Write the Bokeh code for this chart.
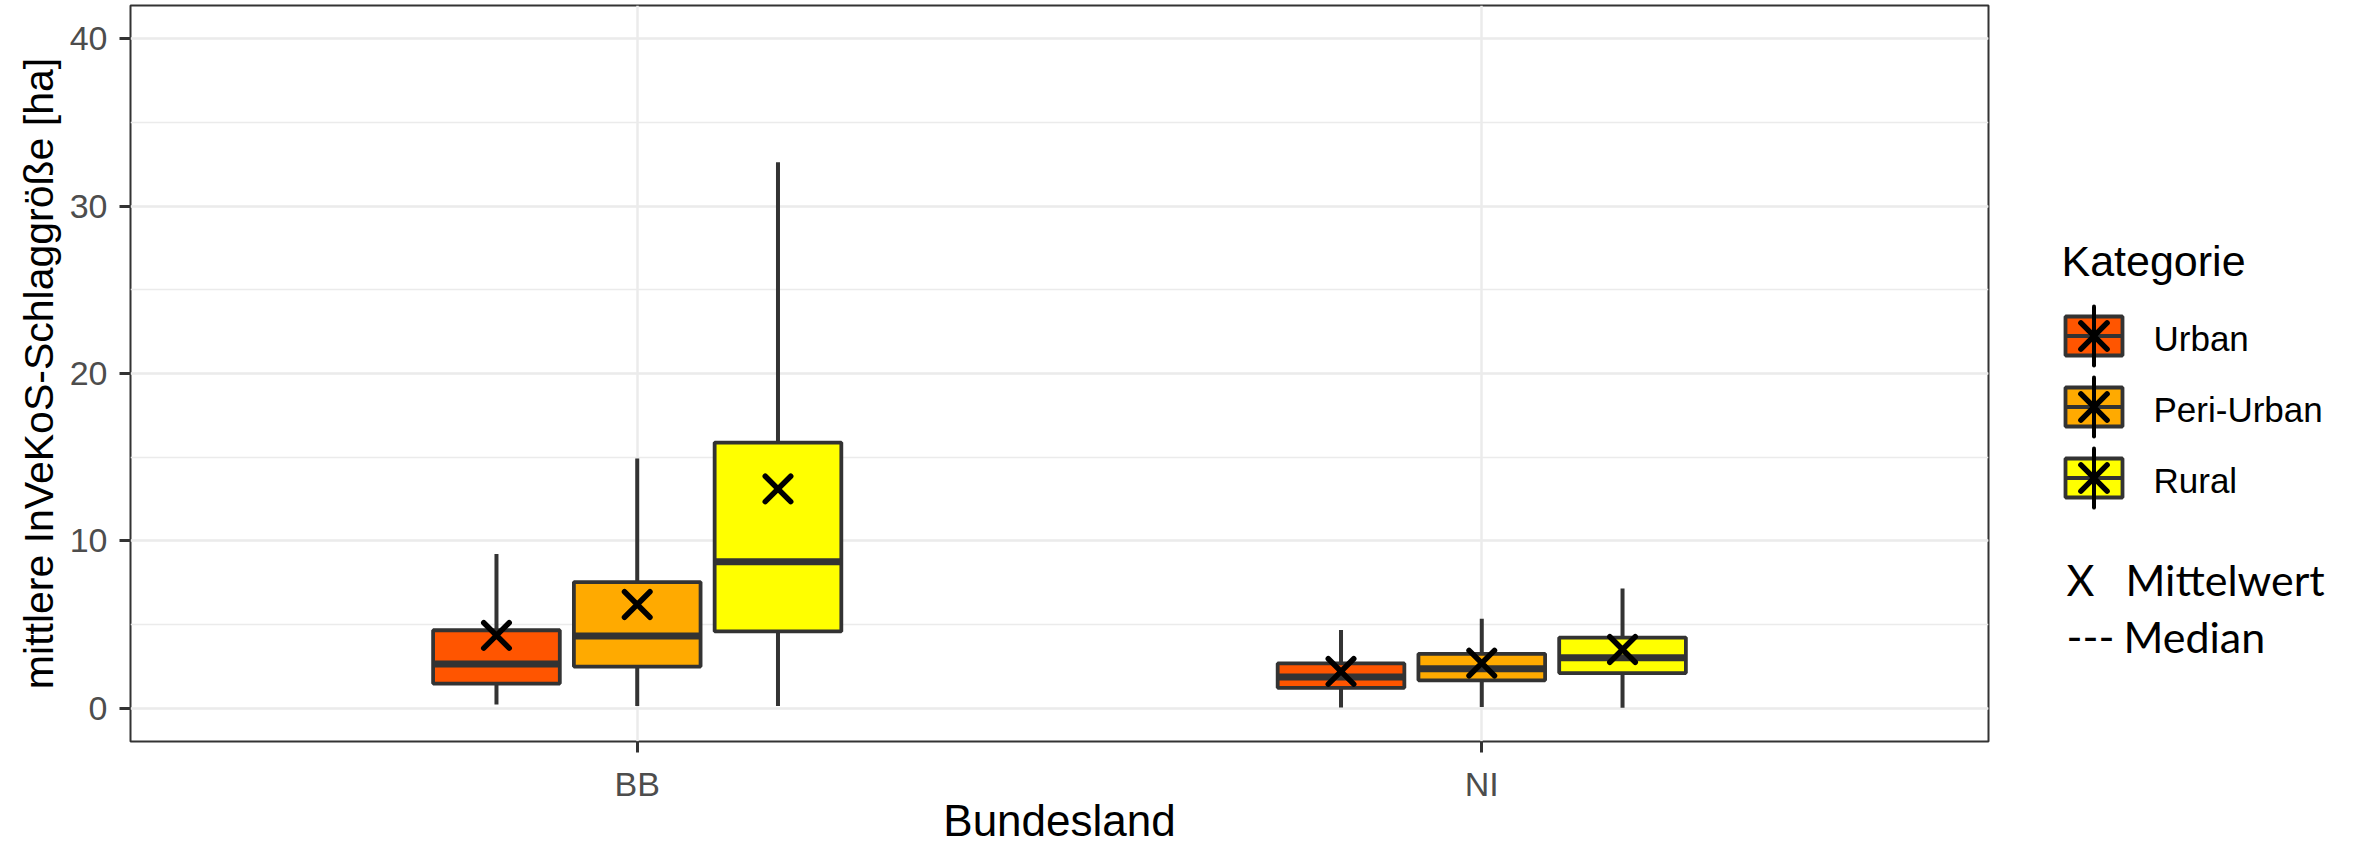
from bokeh.plotting import figure
from bokeh.models import Range1d, FixedTicker, SingleIntervalTicker, ColumnDataSource
from bokeh.layouts import row
from bokeh.embed import file_html
from bokeh.resources import INLINE
from bokeh.core.properties import value

# ---------------- data ----------------
bundeslaender = ["BB", "NI"]
kategorien = ["Urban", "Peri-Urban", "Rural"]
farben = ["#FF5500", "#FFAA00", "#FFFF00"]

# order: BB-Urban, BB-Peri-Urban, BB-Rural, NI-Urban, NI-Peri-Urban, NI-Rural
whisker_min = [0.21, 0.12, 0.12, 0.03, 0.06, 0.02]
q1 = [1.46, 2.48, 4.58, 1.21, 1.66, 2.09]
median = [2.64, 4.30, 8.74, 1.86, 2.35, 3.00]
q3 = [4.65, 7.53, 15.87, 2.67, 3.24, 4.21]
whisker_max = [9.21, 14.92, 32.63, 4.66, 5.34, 7.15]
mittelwert = [4.34, 6.19, 13.10, 2.19, 2.69, 3.50]

x_title = "Bundesland"
y_title = "mittlere InVeKoS-Schlaggröße [ha]"
legend_title = "Kategorie"
note_mean = ("X", "Mittelwert")
note_median = ("---", "Median")

# ---------------- layout constants ----------------
W_MAIN, W_LEG, H = 2008, 351, 847
B_L, B_R, B_T, B_B = 130, 20, 5, 106
Y_LO, Y_HI = -2.0, 42.0
GROUP_W = 0.5
BOX_W = GROUP_W / 3 * 0.9
FONT_NAME = "Liberation Sans"
FONT = value(FONT_NAME)
DARK = "#333333"

state_pos = {s: i + 1 for i, s in enumerate(bundeslaender)}
xs, cats, cols = [], [], []
for s in bundeslaender:
    for j, k in enumerate(kategorien):
        xs.append(state_pos[s] + (j - 1) * GROUP_W / 3)
        cats.append(k)
        cols.append(farben[j])

src = ColumnDataSource(dict(
    x=xs, x0=[x - BOX_W / 2 for x in xs], x1=[x + BOX_W / 2 for x in xs],
    kat=cats, col=cols, wmin=whisker_min, q1=q1, med=median, q3=q3,
    wmax=whisker_max, mean=mittelwert))

p = figure(width=W_MAIN, height=H, title=None,
           x_range=Range1d(0.4, 2.6), y_range=Range1d(Y_LO, Y_HI),
           output_backend="svg", toolbar_location=None,
           min_border_left=B_L, min_border_right=B_R,
           min_border_top=B_T, min_border_bottom=B_B)
p.background_fill_color = "white"
p.border_fill_color = "white"
p.outline_line_color = DARK
p.outline_line_width = 2

# axes
p.xaxis.ticker = FixedTicker(ticks=list(state_pos.values()))
p.xaxis.major_label_overrides = {v: k for k, v in state_pos.items()}
p.yaxis.ticker = SingleIntervalTicker(interval=10, num_minor_ticks=2)
for ax in (p.xaxis, p.yaxis):
    ax.axis_line_color = None
    ax.major_tick_line_color = DARK
    ax.major_tick_line_width = 3
    ax.major_tick_out = 11
    ax.major_tick_in = 0
    ax.minor_tick_line_color = None
    ax.major_label_text_font = FONT_NAME
    ax.major_label_text_font_size = "34px"
    ax.major_label_text_color = "#4D4D4D"
    ax.axis_label_text_font = FONT_NAME
    ax.axis_label_text_font_style = "normal"
    ax.axis_label_text_color = "black"
p.xaxis.major_label_standoff = 12
p.yaxis.major_label_standoff = 12

p.yaxis.axis_label = y_title
p.yaxis.axis_label_text_font_size = "41px"
p.yaxis.axis_label_standoff = 5

p.xaxis.axis_label = x_title
p.xaxis.axis_label_text_font_size = "44px"
p.xaxis.axis_label_standoff = -10

# grid
p.xgrid.grid_line_color = "#EBEBEB"
p.xgrid.grid_line_width = 2.5
p.ygrid.grid_line_color = "#EBEBEB"
p.ygrid.grid_line_width = 2.5
p.ygrid.minor_grid_line_color = "#EBEBEB"
p.ygrid.minor_grid_line_width = 1.3

# boxplots
p.segment(x0="x", y0="wmin", x1="x", y1="wmax", source=src,
          line_color=DARK, line_width=4)
p.vbar(x="x", width=BOX_W, bottom="q1", top="q3", source=src,
       fill_color="col", line_color=DARK, line_width=3.8)
p.segment(x0="x0", y0="med", x1="x1", y1="med", source=src,
          line_color=DARK, line_width=7)
p.scatter(x="x", y="mean", source=src, marker="x", size=36,
          line_color="black", line_width=5.5, line_cap="round")

# ---------------- legend panel ----------------
lg = figure(width=W_LEG, height=H, title=None,
            x_range=Range1d(0, W_LEG), y_range=Range1d(H - B_B, B_T),
            output_backend="svg", toolbar_location=None,
            min_border_left=0, min_border_right=0,
            min_border_top=B_T, min_border_bottom=B_B,
            x_axis_location=None, y_axis_location=None)
lg.outline_line_color = None
lg.xgrid.visible = False
lg.ygrid.visible = False
lg.background_fill_color = "white"
lg.border_fill_color = "white"

KX, KY0, KSTEP, KW, KH = 85.5, 335.5, 71, 57, 39
ky = [KY0 + i * KSTEP for i in range(len(kategorien))]
kx = [KX] * len(kategorien)
lsrc = ColumnDataSource(dict(
    x=kx, y=ky, col=farben, lab=kategorien,
    xl=[KX - KW / 2] * 3, xr=[KX + KW / 2] * 3,
    yt=[v - 29.5 for v in ky], yb=[v + 29.5 for v in ky],
    tx=[145] * 3, ty=[v + 2.5 for v in ky]))
lg.rect(x="x", y="y", width=KW, height=KH, source=lsrc,
        fill_color="col", line_color=DARK, line_width=3.8)
lg.segment(x0="xl", y0="y", x1="xr", y1="y", source=lsrc, line_color=DARK, line_width=3.8)
lg.segment(x0="x", y0="yt", x1="x", y1="yb", source=lsrc, line_color="black",
           line_width=4, line_cap="round")
lg.scatter(x="x", y="y", source=lsrc, marker="x", size=37, line_color="black",
           line_width=5.5, line_cap="round")
lg.text(x="tx", y="ty", text="lab", source=lsrc, text_font=FONT,
        text_font_size="35px", text_baseline="alphabetic", text_color="black")
lg.text(x=[53], y=[260], text=[legend_title], text_font=FONT,
        text_font_size="43px", text_baseline="alphabetic", text_color="black")

NOTE_FONT = value("Lato")
lg.text(x=[58, 117, 58, 115], y=[579, 579, 636, 636],
        text=[note_mean[0], note_mean[1], note_median[0], note_median[1]],
        text_font=NOTE_FONT, text_font_size="43px", text_baseline="alphabetic",
        text_color="black")

layout = row(p, lg)
open("out.html", "w").write(file_html(layout, INLINE))
